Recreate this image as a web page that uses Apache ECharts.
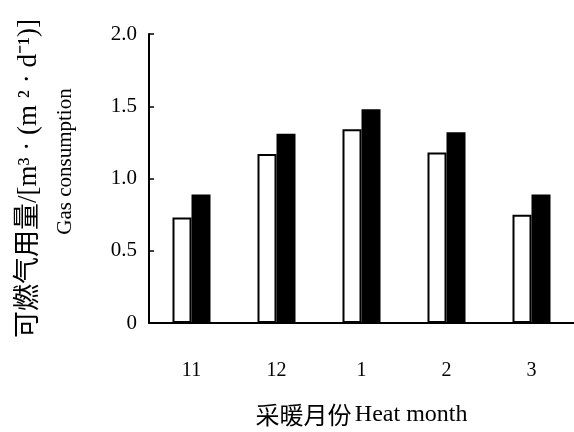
<!DOCTYPE html>
<html>
<head>
<meta charset="utf-8">
<script src="https://cdn.jsdelivr.net/npm/echarts@6/dist/echarts.min.js"></script>
<style>html,body{margin:0;padding:0;background:#fff}#c{width:574px;height:432px}</style>
</head>
<body>
<div id="c"></div>
<script>
const months = ['11', '12', '1', '2', '3'];
const seriesA = [0.73, 1.17, 1.34, 1.18, 0.75];   // open bars
const seriesB = [0.89, 1.31, 1.48, 1.32, 0.89];   // filled bars
const yTicks = [0, 0.5, 1.0, 1.5, 2.0];

const serif = '"Liberation Serif", "Times New Roman", "Noto Sans CJK SC", serif';
const chart = echarts.init(document.getElementById('c'), null, {renderer: 'canvas'});
chart.setOption({
  animation: false,
  backgroundColor: '#fff',
  grid: {left: 149, top: 34, width: 428, height: 297, containLabel: false},
  xAxis: {
    type: 'category',
    data: months,
    name: '{c|采暖月份} {e|Heat month}',
    nameLocation: 'middle',
    nameGap: 80,
    nameTextStyle: {
      rich: {
        c: {fontFamily: '"Noto Sans CJK SC", sans-serif', fontSize: 24, color: '#000'},
        e: {fontFamily: serif, fontSize: 24, color: '#000'}
      }
    },
    axisLine: {lineStyle: {color: '#000', width: 2}},
    axisTick: {inside: true, length: 7, lineStyle: {color: '#000', width: 1.5}},
    axisLabel: {margin: 38, fontFamily: serif, fontSize: 20, color: '#000'},
    splitLine: {show: false}
  },
  yAxis: {
    type: 'value',
    min: yTicks[0],
    max: yTicks[yTicks.length - 1],
    interval: 0.5,
    name: '{a|可燃气用量/[m³ · (m ² · d⁻¹)]}\n{b|Gas consumption}',
    nameLocation: 'middle',
    nameRotate: 90,
    nameGap: 66,
    nameTextStyle: {
      align: 'center',
      rich: {
        a: {fontFamily: serif, fontSize: 27, lineHeight: 36, color: '#000', align: 'center'},
        b: {fontFamily: serif, fontSize: 21, lineHeight: 36, color: '#000', align: 'center', padding: [0, 0, 0, 34]}
      }
    },
    axisLine: {show: true, lineStyle: {color: '#000', width: 2}},
    axisTick: {show: true, inside: true, length: 5, lineStyle: {color: '#000', width: 1.5}},
    axisLabel: {
      margin: 12, fontFamily: serif, fontSize: 21, color: '#000',
      formatter: v => v === 0 ? '0' : v.toFixed(1)
    },
    splitLine: {show: false}
  },
  series: [
    {
      type: 'bar', data: seriesA, barWidth: 19, barGap: '0%',
      itemStyle: {color: '#fff', borderColor: '#000', borderWidth: 2}
    },
    {
      type: 'bar', data: seriesB, barWidth: 19, barGap: '0%',
      itemStyle: {color: '#000', borderColor: '#000', borderWidth: 0}
    }
  ]
});
</script>
</body>
</html>
